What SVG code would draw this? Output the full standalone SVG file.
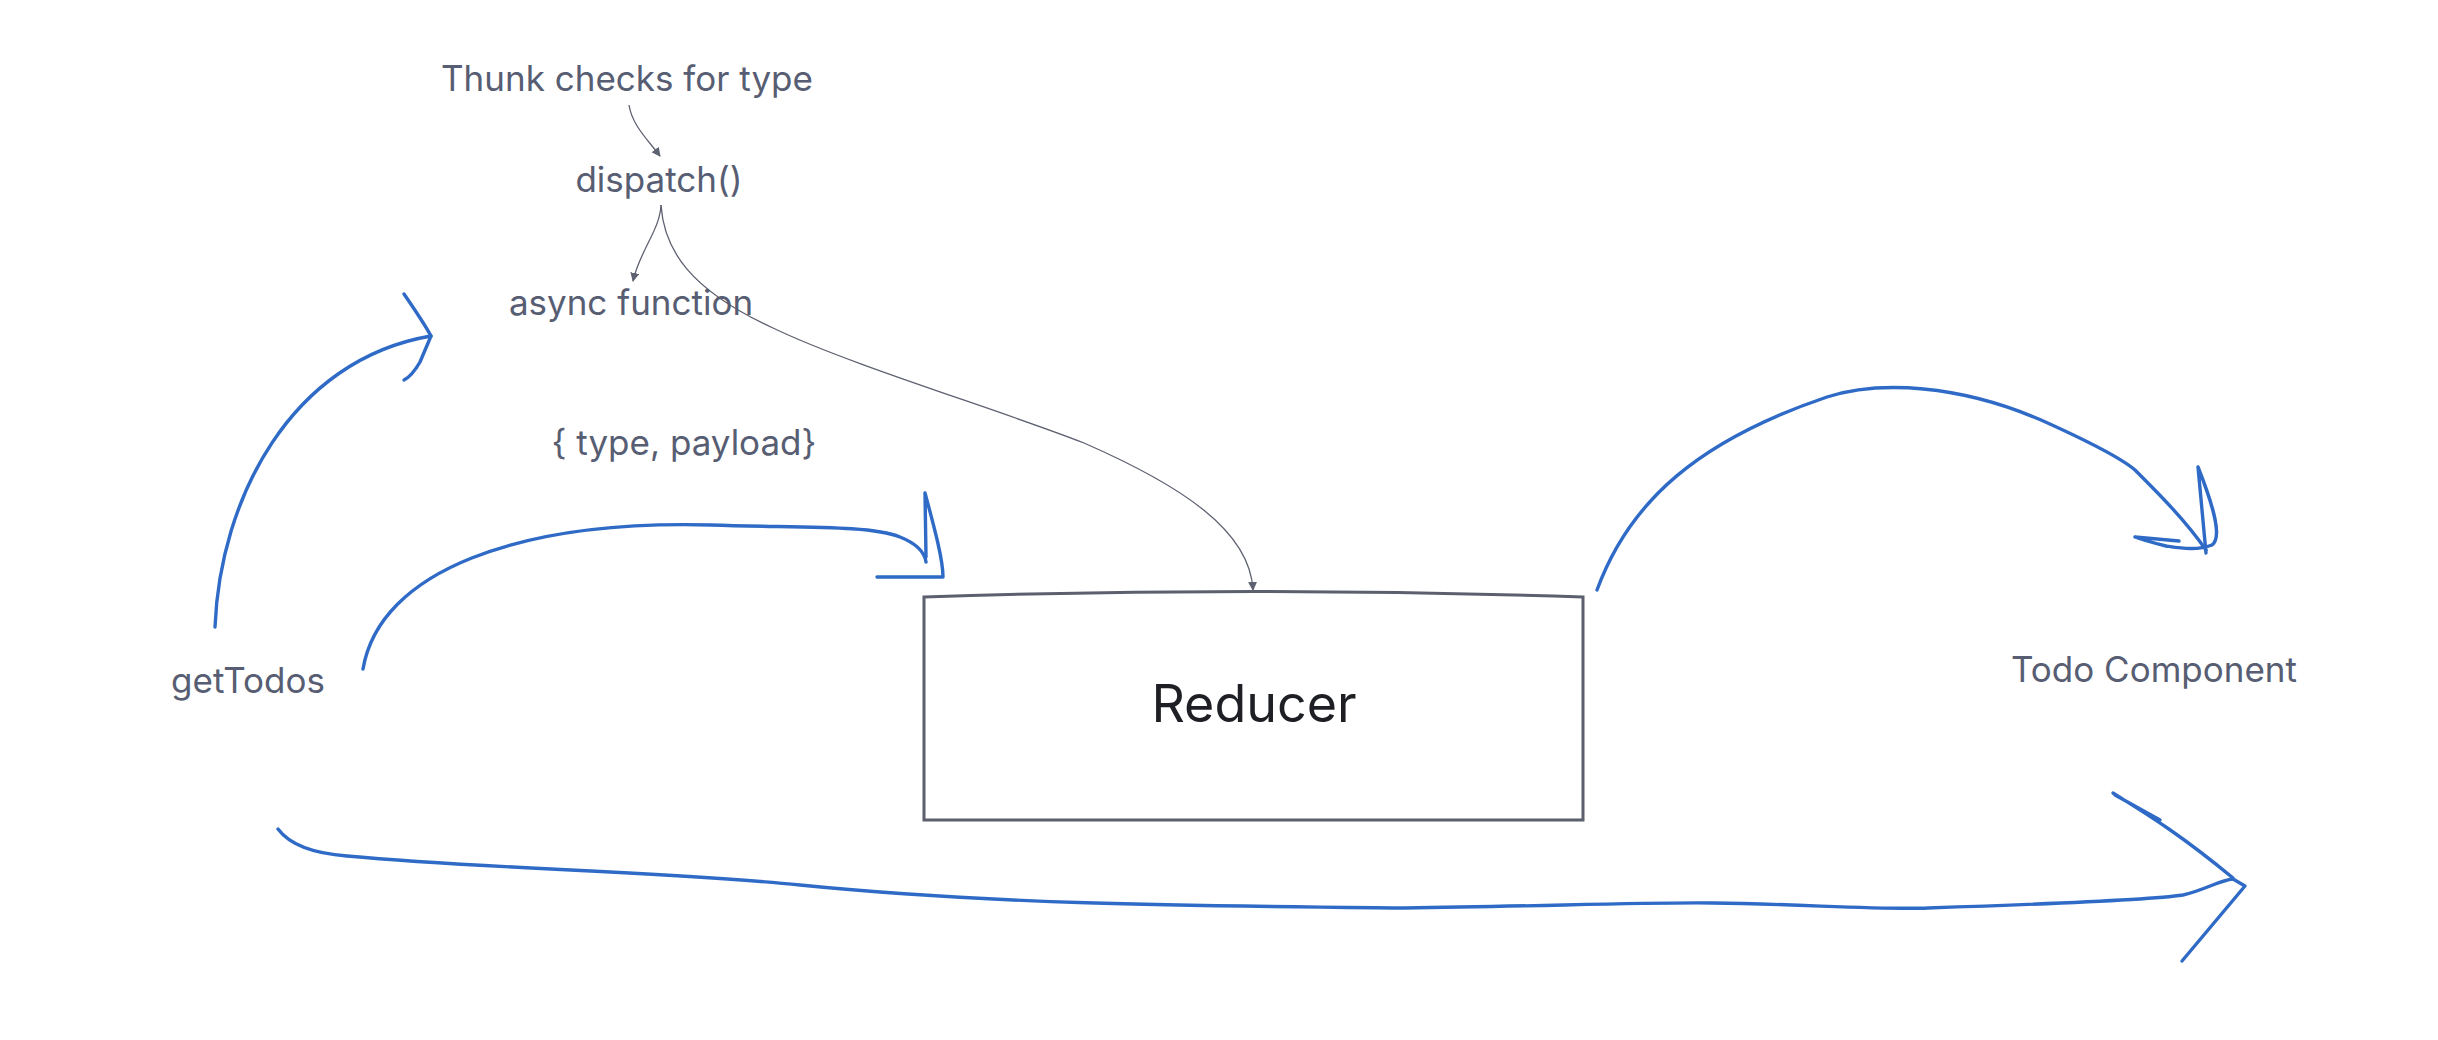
<svg xmlns="http://www.w3.org/2000/svg" width="2438" height="1040" viewBox="0 0 2438 1040">
<style>
  .lbl { font-family: Inter, "Noto Sans", "Liberation Sans", sans-serif; fill: #575d72; font-size: 35px; text-anchor: middle; }
  .big { font-family: Inter, "Noto Sans", "Liberation Sans", sans-serif; fill: #1e1f24; font-size: 52px; text-anchor: middle; }
  .box { fill: #ffffff; stroke: #5b5f6e; stroke-width: 3; }
  .thin { fill: none; stroke: #5e6170; stroke-width: 1.3; }
  .ink { fill: none; stroke: #2f6bc6; stroke-width: 3.4; stroke-linecap: round; stroke-linejoin: round; }
</style>
<defs>
  <marker id="tri" viewBox="0 0 10 10" refX="9" refY="5" markerWidth="9" markerHeight="9" markerUnits="userSpaceOnUse" orient="auto">
    <path d="M0,0 L10,5 L0,10 Z" fill="#5e6170"/>
  </marker>
</defs>
<rect width="2438" height="1040" fill="#ffffff"/>

<g id="connectors">
  <path class="thin" d="M629,105 C632,125 648,140 660,156" marker-end="url(#tri)"/>
  <path class="thin" d="M661,205 C660,230 640,250 633,281" marker-end="url(#tri)"/>
  <path class="thin" d="M661,205 C664,250 690,290 773,328 C850,365 1000,410 1084,443 C1180,485 1250,530 1253,590" marker-end="url(#tri)"/>

  <path class="ink" d="M215,627 C220,500 290,360 431,336"/>
  <path class="ink" d="M404,294 C415,310 425,325 431,336 L420,362 Q412,376 404,380"/>

  <path class="ink" d="M363,669 C380,570 520,520 711,525 C800,528 870,525 900,537 C920,545 925,555 926,562"/>
  <path class="ink" d="M925,493 L926,557 M925,493 C935,530 943,560 943,577 L877,577"/>

  <path class="ink" d="M1597,590 C1630,500 1700,440 1827,397 C1880,380 1960,385 2041,420 C2090,442 2121,458 2135,470 C2160,495 2185,520 2206,550"/>
  <path class="ink" d="M2198,467 L2206,553 M2198,467 C2215,510 2222,538 2212,545 C2197,551 2180,548 2166,546 C2150,542 2140,539 2135,537 M2135,537 L2179,541"/>

  <path class="ink" d="M278,829 Q295,852 347,856 C500,870 650,870 800,885 C1000,905 1200,906 1405,908 C1550,906 1650,902 1713,903 C1800,904 1880,910 1928,908 C2050,904 2150,900 2183,895 C2205,890 2220,880 2233,879"/>
  <path class="ink" d="M2113,793 C2140,810 2175,830 2233,878 M2115,795 L2160,820 M2233,879 L2245,886 L2182,961"/>
</g>

<g id="node-thunk"><text class="lbl" x="627" y="91" font-size="36.5">Thunk checks for type</text></g>
<g id="node-dispatch"><text class="lbl" x="659" y="192" font-size="36.5">dispatch()</text></g>
<g id="node-async"><text class="lbl" x="631" y="315" font-size="36.5">async function</text></g>
<g id="node-payload"><text class="lbl" x="684" y="455" font-size="36.5">{ type, payload}</text></g>
<g id="node-gettodos"><text class="lbl" x="248" y="693" font-size="35">getTodos</text></g>
<g id="node-todo"><text class="lbl" x="2154" y="682" font-size="35">Todo Component</text></g>
<g id="node-reducer">
  <path class="box" d="M924,597 Q1253,586 1583,597 L1583,820 L924,820 Z"/>
  <text class="big" x="1254" y="722">Reducer</text>
</g>
</svg>
